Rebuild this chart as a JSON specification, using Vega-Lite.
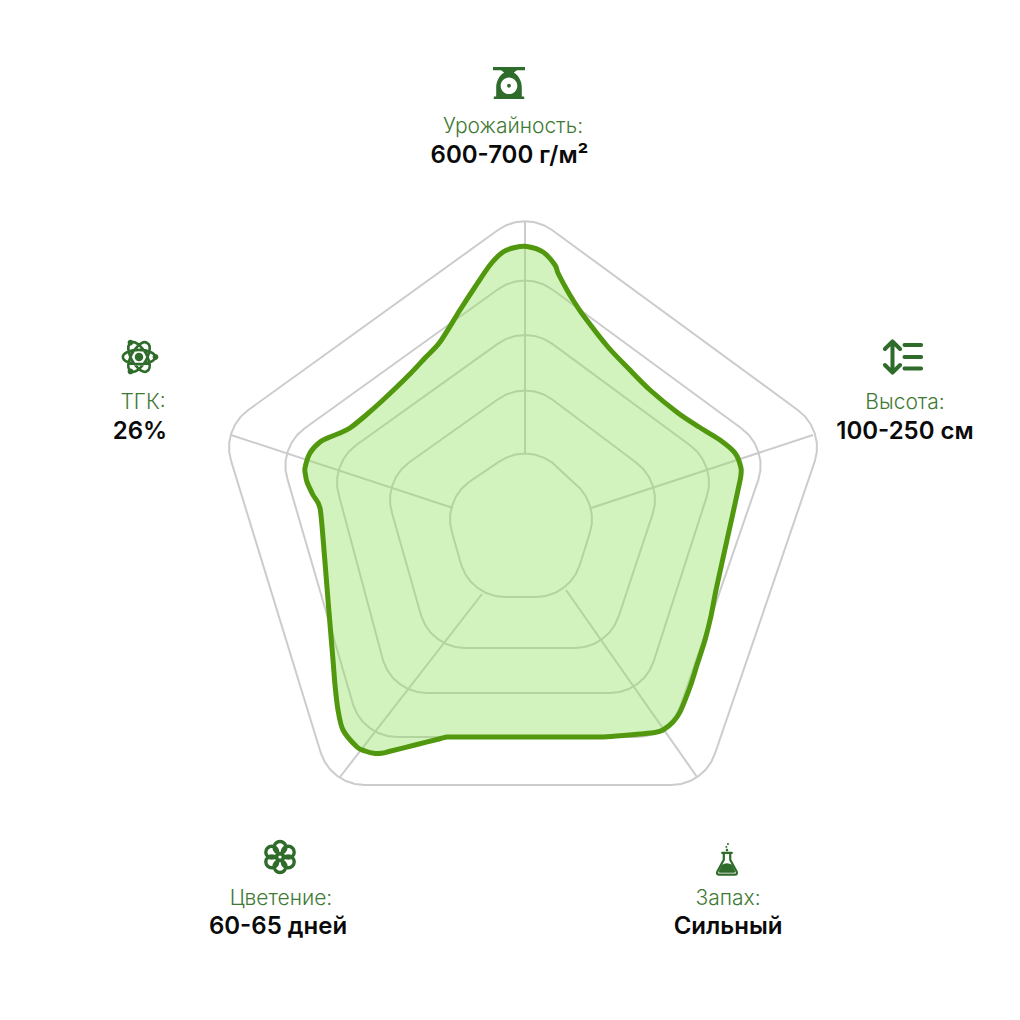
{"$schema":"https://vega.github.io/schema/vega-lite/v6.json","width":1020,"height":1020,"autosize":{"type":"fit","contains":"padding"},"padding":0,"background":"white","config":{"view":{"stroke":null}},
"datasets":{
"spokes":[{"s":"a","x":0,"y":74},{"s":"a","x":0,"y":306},{"s":"b","x":66,"y":20},{"s":"b","x":288,"y":93},{"s":"c","x":-72,"y":20},{"s":"c","x":-294,"y":93},{"s":"d","x":-43,"y":-66},{"s":"d","x":-185,"y":-249},{"s":"e","x":41,"y":-62},{"s":"e","x":172,"y":-249}],
"rings":[
{"r":5,"x":-27,"y":298},{"r":5,"x":-18.7,"y":302.8},{"r":5,"x":-9.6,"y":305.8},{"r":5,"x":0,"y":306.8},{"r":5,"x":9.6,"y":305.8},{"r":5,"x":18.7,"y":302.8},{"r":5,"x":27,"y":298},
{"r":5,"x":273,"y":117.8},{"r":5,"x":280.2,"y":111.4},{"r":5,"x":285.8,"y":103.6},{"r":5,"x":289.7,"y":94.8},{"r":5,"x":291.8,"y":85.4},{"r":5,"x":291.8,"y":75.8},{"r":5,"x":289.7,"y":66.4},
{"r":5,"x":190.1,"y":-225.2},{"r":5,"x":186.2,"y":-234},{"r":5,"x":180.6,"y":-241.8},{"r":5,"x":173.4,"y":-248.2},{"r":5,"x":165.1,"y":-253},{"r":5,"x":156,"y":-256},{"r":5,"x":146.4,"y":-257},
{"r":5,"x":-160.4,"y":-257},{"r":5,"x":-170,"y":-256},{"r":5,"x":-179.1,"y":-253},{"r":5,"x":-187.4,"y":-248.2},{"r":5,"x":-194.6,"y":-241.8},{"r":5,"x":-200.2,"y":-234},{"r":5,"x":-204.1,"y":-225.2},
{"r":5,"x":-293.7,"y":66.4},{"r":5,"x":-295.8,"y":75.8},{"r":5,"x":-295.8,"y":85.4},{"r":5,"x":-293.7,"y":94.8},{"r":5,"x":-289.8,"y":103.6},{"r":5,"x":-284.2,"y":111.4},{"r":5,"x":-277,"y":117.8},
{"r":4,"x":-27,"y":238.7},{"r":4,"x":-18.7,"y":243.5},{"r":4,"x":-9.6,"y":246.5},{"r":4,"x":0,"y":247.5},{"r":4,"x":9.6,"y":246.5},{"r":4,"x":18.7,"y":243.5},{"r":4,"x":27,"y":238.7},
{"r":4,"x":216.6,"y":99.5},{"r":4,"x":223.8,"y":93.1},{"r":4,"x":229.4,"y":85.3},{"r":4,"x":233.3,"y":76.5},{"r":4,"x":235.4,"y":67.1},{"r":4,"x":235.4,"y":57.5},{"r":4,"x":233.3,"y":48.1},
{"r":4,"x":155.7,"y":-177.2},{"r":4,"x":151.8,"y":-186},{"r":4,"x":146.2,"y":-193.8},{"r":4,"x":139,"y":-200.2},{"r":4,"x":130.7,"y":-205},{"r":4,"x":121.6,"y":-208},{"r":4,"x":112,"y":-209},
{"r":4,"x":-128,"y":-209},{"r":4,"x":-137.6,"y":-208},{"r":4,"x":-146.7,"y":-205},{"r":4,"x":-155,"y":-200.2},{"r":4,"x":-162.2,"y":-193.8},{"r":4,"x":-167.8,"y":-186},{"r":4,"x":-171.7,"y":-177.2},
{"r":4,"x":-237.3,"y":48.1},{"r":4,"x":-239.4,"y":57.5},{"r":4,"x":-239.4,"y":67.1},{"r":4,"x":-237.3,"y":76.5},{"r":4,"x":-233.4,"y":85.3},{"r":4,"x":-227.8,"y":93.1},{"r":4,"x":-220.6,"y":99.5},
{"r":3,"x":-27,"y":184.3},{"r":3,"x":-18.7,"y":189.1},{"r":3,"x":-9.6,"y":192.1},{"r":3,"x":0,"y":193.1},{"r":3,"x":9.6,"y":192.1},{"r":3,"x":18.7,"y":189.1},{"r":3,"x":27,"y":184.3},
{"r":3,"x":165,"y":82.7},{"r":3,"x":172.2,"y":76.3},{"r":3,"x":177.8,"y":68.5},{"r":3,"x":181.7,"y":59.7},{"r":3,"x":183.8,"y":50.3},{"r":3,"x":183.8,"y":40.7},{"r":3,"x":181.7,"y":31.3},
{"r":3,"x":128.7,"y":-133.2},{"r":3,"x":124.8,"y":-142},{"r":3,"x":119.2,"y":-149.8},{"r":3,"x":112,"y":-156.2},{"r":3,"x":103.7,"y":-161},{"r":3,"x":94.6,"y":-164},{"r":3,"x":85,"y":-165},
{"r":3,"x":-98,"y":-165},{"r":3,"x":-107.6,"y":-164},{"r":3,"x":-116.7,"y":-161},{"r":3,"x":-125,"y":-156.2},{"r":3,"x":-132.2,"y":-149.8},{"r":3,"x":-137.8,"y":-142},{"r":3,"x":-141.7,"y":-133.2},
{"r":3,"x":-185.7,"y":31.3},{"r":3,"x":-187.8,"y":40.7},{"r":3,"x":-187.8,"y":50.3},{"r":3,"x":-185.7,"y":59.7},{"r":3,"x":-181.8,"y":68.5},{"r":3,"x":-176.2,"y":76.3},{"r":3,"x":-169,"y":82.7},
{"r":2,"x":-27,"y":128.7},{"r":2,"x":-18.7,"y":133.5},{"r":2,"x":-9.6,"y":136.5},{"r":2,"x":0,"y":137.5},{"r":2,"x":9.6,"y":136.5},{"r":2,"x":18.7,"y":133.5},{"r":2,"x":27,"y":128.7},
{"r":2,"x":111,"y":65.5},{"r":2,"x":118.2,"y":59.1},{"r":2,"x":123.8,"y":51.3},{"r":2,"x":127.7,"y":42.5},{"r":2,"x":129.8,"y":33.1},{"r":2,"x":129.8,"y":23.5},{"r":2,"x":127.7,"y":14.1},
{"r":2,"x":93.7,"y":-88.2},{"r":2,"x":89.8,"y":-97},{"r":2,"x":84.2,"y":-104.8},{"r":2,"x":77,"y":-111.2},{"r":2,"x":68.7,"y":-116},{"r":2,"x":59.6,"y":-119},{"r":2,"x":50,"y":-120},
{"r":2,"x":-60,"y":-120},{"r":2,"x":-69.6,"y":-119},{"r":2,"x":-78.7,"y":-116},{"r":2,"x":-87,"y":-111.2},{"r":2,"x":-94.2,"y":-104.8},{"r":2,"x":-99.8,"y":-97},{"r":2,"x":-103.7,"y":-88.2},
{"r":2,"x":-132.7,"y":14.1},{"r":2,"x":-134.8,"y":23.5},{"r":2,"x":-134.8,"y":33.1},{"r":2,"x":-132.7,"y":42.5},{"r":2,"x":-128.8,"y":51.3},{"r":2,"x":-123.2,"y":59.1},{"r":2,"x":-116,"y":65.5},
{"r":1,"x":-27,"y":65.6},{"r":1,"x":-18.7,"y":70.4},{"r":1,"x":-9.6,"y":73.4},{"r":1,"x":0,"y":74.4},{"r":1,"x":9.6,"y":73.4},{"r":1,"x":18.7,"y":70.4},{"r":1,"x":27,"y":65.6},
{"r":1,"x":48,"y":46},{"r":1,"x":55.2,"y":39.6},{"r":1,"x":60.8,"y":31.8},{"r":1,"x":64.7,"y":23},{"r":1,"x":66.8,"y":13.6},{"r":1,"x":66.8,"y":4},{"r":1,"x":64.7,"y":-5.4},
{"r":1,"x":54.7,"y":-37.2},{"r":1,"x":50.8,"y":-46},{"r":1,"x":45.2,"y":-53.8},{"r":1,"x":38,"y":-60.2},{"r":1,"x":29.7,"y":-65},{"r":1,"x":20.6,"y":-68},{"r":1,"x":11,"y":-69},
{"r":1,"x":-20,"y":-69},{"r":1,"x":-29.6,"y":-68},{"r":1,"x":-38.7,"y":-65},{"r":1,"x":-47,"y":-60.2},{"r":1,"x":-54.2,"y":-53.8},{"r":1,"x":-59.8,"y":-46},{"r":1,"x":-63.7,"y":-37.2},
{"r":1,"x":-72.7,"y":-5.4},{"r":1,"x":-74.8,"y":4},{"r":1,"x":-74.8,"y":13.6},{"r":1,"x":-72.7,"y":23},{"r":1,"x":-68.8,"y":31.8},{"r":1,"x":-63.2,"y":39.6},{"r":1,"x":-56,"y":46}
],
"outline":[
{"o":0,"p":"u","x":-220,"y":60},{"o":1,"p":"u","x":-215,"y":75},{"o":2,"p":"u","x":-205,"y":86},{"o":3,"p":"u","x":-195,"y":91},{"o":4,"p":"u","x":-185,"y":95},{"o":5,"p":"u","x":-175,"y":100},{"o":6,"p":"u","x":-160,"y":112},{"o":7,"p":"u","x":-142,"y":128},{"o":8,"p":"u","x":-115,"y":154},{"o":9,"p":"u","x":-100,"y":170},{"o":10,"p":"u","x":-85,"y":186},{"o":11,"p":"u","x":-65,"y":218},{"o":12,"p":"u","x":-50,"y":241},{"o":13,"p":"u","x":-35,"y":263},{"o":14,"p":"u","x":-22,"y":276},{"o":15,"p":"u","x":-10,"y":280.5},{"o":16,"p":"u","x":2,"y":281.5},{"o":17,"p":"u","x":18,"y":276},{"o":18,"p":"u","x":30,"y":263},{"o":19,"p":"u","x":33,"y":255},{"o":20,"p":"u","x":42,"y":238},{"o":21,"p":"u","x":48,"y":228},{"o":22,"p":"u","x":58,"y":213},{"o":23,"p":"u","x":83,"y":181},{"o":24,"p":"u","x":104,"y":159},{"o":25,"p":"u","x":125,"y":138},{"o":26,"p":"u","x":153,"y":115},{"o":27,"p":"u","x":174,"y":101},{"o":28,"p":"u","x":195,"y":88},{"o":29,"p":"u","x":210,"y":75},{"o":30,"p":"u","x":216,"y":60},
{"o":31,"p":"l","x":215.5,"y":50},{"o":32,"p":"l","x":213,"y":38},{"o":33,"p":"l","x":208,"y":15},{"o":34,"p":"l","x":202,"y":-12},{"o":35,"p":"l","x":191,"y":-62},{"o":36,"p":"l","x":186,"y":-88},{"o":37,"p":"l","x":180,"y":-112},{"o":38,"p":"l","x":172,"y":-137},{"o":39,"p":"l","x":165,"y":-159},{"o":40,"p":"l","x":155,"y":-184},{"o":41,"p":"l","x":148,"y":-194},{"o":42,"p":"l","x":138,"y":-202},{"o":43,"p":"l","x":130,"y":-204.5},{"o":44,"p":"l","x":115,"y":-206},{"o":45,"p":"l","x":95,"y":-207.7},{"o":46,"p":"l","x":75,"y":-209},{"o":47,"p":"l","x":45,"y":-209},{"o":48,"p":"l","x":15,"y":-209},{"o":49,"p":"l","x":-15,"y":-209},{"o":50,"p":"l","x":-45,"y":-209},{"o":51,"p":"l","x":-70,"y":-209},{"o":52,"p":"l","x":-78,"y":-209},{"o":53,"p":"l","x":-85,"y":-210.8},{"o":54,"p":"l","x":-110,"y":-217},{"o":55,"p":"l","x":-135,"y":-223.2},{"o":56,"p":"l","x":-142,"y":-225},{"o":57,"p":"l","x":-150,"y":-225.5},{"o":58,"p":"l","x":-160,"y":-223},{"o":59,"p":"l","x":-168,"y":-219},{"o":60,"p":"l","x":-182,"y":-202},{"o":61,"p":"l","x":-187,"y":-182},{"o":62,"p":"l","x":-190,"y":-157},{"o":63,"p":"l","x":-192,"y":-132},{"o":64,"p":"l","x":-197,"y":-72},{"o":65,"p":"l","x":-201,"y":-22},{"o":66,"p":"l","x":-205,"y":20},{"o":67,"p":"l","x":-212,"y":33},{"o":68,"p":"l","x":-218,"y":46},{"o":69,"p":"l","x":-219.5,"y":53}
],
"labels":[{"t":"Урожайность:","x":-12,"y":401},{"t":"Высота:","x":380,"y":125},{"t":"Запах:","x":203,"y":-371},{"t":"Цветение:","x":-244,"y":-371},{"t":"ТГК:","x":-382,"y":125}],
"values":[{"t":"600-700 г/м²","x":-15.5,"y":372},{"t":"100-250 см","x":380,"y":96},{"t":"Сильный","x":203,"y":-399},{"t":"60-65 дней","x":-247,"y":-399},{"t":"26%","x":-385,"y":96}],
"icons":[{"n":"yield","x":-16,"y":445},{"n":"height","x":377.5,"y":171},{"n":"thc","x":-386,"y":171},{"n":"flower","x":-245,"y":-329},{"n":"smell","x":202,"y":-332}]
},
"layer":[
{"data":{"name":"spokes"},"mark":{"type":"line","stroke":"#cccccc","strokeWidth":2},"encoding":{"x":{"field":"x","type":"quantitative","scale":{"domain":[-525,495],"nice":false,"zero":false},"axis":null},"y":{"field":"y","type":"quantitative","scale":{"domain":[-492,528],"nice":false,"zero":false},"axis":null},"detail":{"field":"s"}}},
{"data":{"name":"rings"},"mark":{"type":"line","stroke":"#cccccc","strokeWidth":2,"interpolate":"linear-closed"},"encoding":{"x":{"field":"x","type":"quantitative"},"y":{"field":"y","type":"quantitative"},"detail":{"field":"r"},"order":{"field":"o"}},"transform":[{"window":[{"op":"row_number","as":"o"}],"groupby":["r"]}]},
{"data":{"name":"outline"},"mark":{"type":"area","fill":"#8fe05a","fillOpacity":0.4,"interpolate":"monotone","line":false},"encoding":{"x":{"field":"x","type":"quantitative"},"y":{"field":"y","type":"quantitative","stack":null},"y2":{"datum":60},"detail":{"field":"p"}}},
{"data":{"name":"outline"},"mark":{"type":"line","stroke":"#51980f","strokeWidth":5,"interpolate":"cardinal-closed","tension":0.2},"encoding":{"x":{"field":"x","type":"quantitative"},"y":{"field":"y","type":"quantitative"},"order":{"field":"o"}}},
{"data":{"name":"labels"},"mark":{"type":"text","font":"Inter","fontSize":21,"fontWeight":300,"fill":"#3f7a35","align":"center","baseline":"middle"},"encoding":{"x":{"field":"x","type":"quantitative"},"y":{"field":"y","type":"quantitative"},"text":{"field":"t"}}},
{"data":{"name":"values"},"mark":{"type":"text","font":"Inter","fontSize":24,"fontWeight":600,"fill":"#0a0a0a","align":"center","baseline":"middle"},"encoding":{"x":{"field":"x","type":"quantitative"},"y":{"field":"y","type":"quantitative"},"text":{"field":"t"}}},
{"data":{"name":"icons"},"transform":[{"filter":"datum.n==='yield'"}],"mark":{"type":"point","filled":true,"opacity":1,"fill":"#2f6b2a","strokeWidth":0,"size":1024,"shape":"M-1,-1H1V-.8H.5L.3,-.65C.62,-.45 .8,-.1 .8,.3V.85H.95V1H-.95V.85H-.8V.3C-.8,-.1 -.62,-.45 -.3,-.65L-.5,-.8H-1Z M0,-.35A.52,.52 0 0 0 0,.69A.52,.52 0 0 0 0,-.35Z M0,.05A.12,.12 0 0 1 0,.29A.12,.12 0 0 1 0,.05Z"},"encoding":{"x":{"field":"x","type":"quantitative"},"y":{"field":"y","type":"quantitative"}}},
{"data":{"name":"icons"},"transform":[{"filter":"datum.n==='height'"}],"mark":{"type":"point","filled":false,"opacity":1,"stroke":"#2f6b2a","strokeWidth":4,"strokeCap":"round","strokeJoin":"round","size":1600,"shape":"M-.5,-.75V.75 M-.88,-.4L-.5,-.78L-.12,-.4 M-.88,.4L-.5,.78L-.12,.4 M.1,-.6H.93 M.1,0H.93 M.1,.58H.93"},"encoding":{"x":{"field":"x","type":"quantitative"},"y":{"field":"y","type":"quantitative"}}},
{"data":{"name":"icons"},"transform":[{"filter":"datum.n==='thc'"}],"mark":{"type":"point","filled":false,"opacity":1,"stroke":"#2f6b2a","strokeWidth":2.6,"size":1156,"shape":"M-.95,0A.95,.42 0 1 0 .95,0A.95,.42 0 1 0 -.95,0Z M-.475,-.82A.95,.42 60 1 0 .475,.82A.95,.42 60 1 0 -.475,-.82Z M-.475,.82A.95,.42 -60 1 0 .475,-.82A.95,.42 -60 1 0 -.475,.82Z"},"encoding":{"x":{"field":"x","type":"quantitative"},"y":{"field":"y","type":"quantitative"}}},
{"data":{"name":"icons"},"transform":[{"filter":"datum.n==='thc'"}],"mark":{"type":"point","filled":true,"opacity":1,"fill":"#2f6b2a","strokeWidth":0,"size":1156,"shape":"M-.25,0A.25,.25 0 1 0 .25,0A.25,.25 0 1 0 -.25,0Z M.8,0A.17,.17 0 1 0 1.14,0A.17,.17 0 1 0 .8,0Z M-.67,-.85A.17,.17 0 1 0 -.33,-.85A.17,.17 0 1 0 -.67,-.85Z M-.67,.85A.17,.17 0 1 0 -.33,.85A.17,.17 0 1 0 -.67,.85Z"},"encoding":{"x":{"field":"x","type":"quantitative"},"y":{"field":"y","type":"quantitative"}}},
{"data":{"name":"icons"},"transform":[{"filter":"datum.n==='flower'"}],"mark":{"type":"point","filled":false,"opacity":1,"stroke":"#2f6b2a","strokeWidth":3.4,"size":1089,"shape":"M-.36,-.58a.36,.36 0 1 0 .72,0a.36,.36 0 1 0 -.72,0Z M.14,-.29a.36,.36 0 1 0 .72,0a.36,.36 0 1 0 -.72,0Z M.14,.29a.36,.36 0 1 0 .72,0a.36,.36 0 1 0 -.72,0Z M-.36,.58a.36,.36 0 1 0 .72,0a.36,.36 0 1 0 -.72,0Z M-.86,.29a.36,.36 0 1 0 .72,0a.36,.36 0 1 0 -.72,0Z M-.86,-.29a.36,.36 0 1 0 .72,0a.36,.36 0 1 0 -.72,0Z M-.2,0a.2,.2 0 1 0 .4,0a.2,.2 0 1 0 -.4,0Z"},"encoding":{"x":{"field":"x","type":"quantitative"},"y":{"field":"y","type":"quantitative"}}},
{"data":{"name":"icons"},"transform":[{"filter":"datum.n==='smell'"}],"mark":{"type":"point","filled":false,"opacity":1,"stroke":"#2f6b2a","strokeWidth":2.2,"strokeCap":"round","size":1024,"shape":"M-.2,-.44V-.02L-.6,.72Q-.68,.92 -.48,.92H.48Q.68,.92 .6,.72L.2,-.02V-.44 M-.3,-.44H.3"},"encoding":{"x":{"field":"x","type":"quantitative"},"y":{"field":"y","type":"quantitative"}}},
{"data":{"name":"icons"},"transform":[{"filter":"datum.n==='smell'"}],"mark":{"type":"point","filled":true,"opacity":1,"fill":"#2f6b2a","strokeWidth":0,"size":1024,"shape":"M-.32,.3Q0,.1 .32,.3L.5,.68Q.54,.8 .42,.8H-.42Q-.54,.8 -.5,.68Z M-.08,-.62a.08,.08 0 1 0 .16,0a.08,.08 0 1 0 -.16,0Z M-.1,-.82a.06,.06 0 1 0 .12,0a.06,.06 0 1 0 -.12,0Z M.0,-1a.06,.06 0 1 0 .12,0a.06,.06 0 1 0 -.12,0Z"},"encoding":{"x":{"field":"x","type":"quantitative"},"y":{"field":"y","type":"quantitative"}}}
]}
